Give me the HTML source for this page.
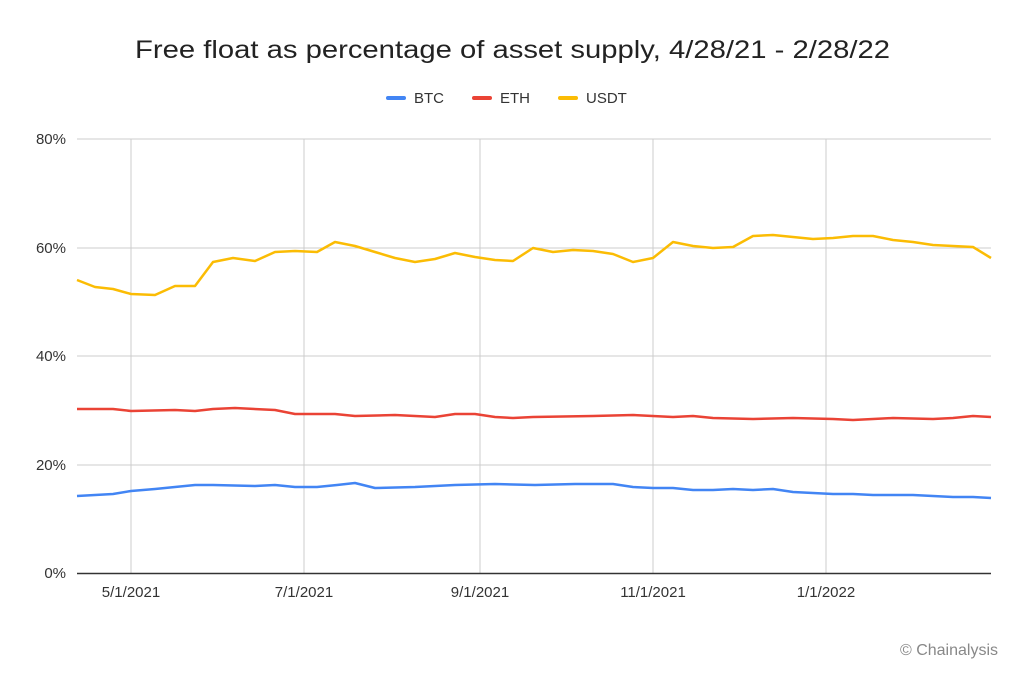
<!DOCTYPE html>
<html><head><meta charset="utf-8"><style>
body{margin:0;background:#fff;}
svg{display:block;font-family:"Liberation Sans",sans-serif;}
</style></head><body>
<svg width="1024" height="674" viewBox="0 0 1024 674">
<rect width="1024" height="674" fill="#fff"/>
<text x="135" y="58" font-size="25" fill="#222" textLength="755" lengthAdjust="spacingAndGlyphs">Free float as percentage of asset supply, 4/28/21 -  2/28/22</text>
<g font-size="15" fill="#333">
<line x1="388" y1="98" x2="404" y2="98" stroke="#4285f4" stroke-width="4" stroke-linecap="round"/>
<text x="414" y="103">BTC</text>
<line x1="474" y1="98" x2="490" y2="98" stroke="#ea4335" stroke-width="4" stroke-linecap="round"/>
<text x="500" y="103">ETH</text>
<line x1="560" y1="98" x2="576" y2="98" stroke="#fbbc04" stroke-width="4" stroke-linecap="round"/>
<text x="586" y="103">USDT</text>
</g>
<g stroke="#ccc" stroke-width="1">
<line x1="77" y1="139" x2="991" y2="139"/>
<line x1="77" y1="248" x2="991" y2="248"/>
<line x1="77" y1="356" x2="991" y2="356"/>
<line x1="77" y1="465" x2="991" y2="465"/>
<line x1="131" y1="139" x2="131" y2="573"/>
<line x1="304" y1="139" x2="304" y2="573"/>
<line x1="480" y1="139" x2="480" y2="573"/>
<line x1="653" y1="139" x2="653" y2="573"/>
<line x1="826" y1="139" x2="826" y2="573"/>
</g>
<line x1="77" y1="573.5" x2="991" y2="573.5" stroke="#333" stroke-width="1.5"/>
<g font-size="15" fill="#333" text-anchor="end">
<text x="66" y="144">80%</text><text x="66" y="253">60%</text><text x="66" y="361">40%</text><text x="66" y="470">20%</text><text x="66" y="578">0%</text>
</g>
<g font-size="15" fill="#333" text-anchor="middle">
<text x="131" y="597">5/1/2021</text><text x="304" y="597">7/1/2021</text><text x="480" y="597">9/1/2021</text><text x="653" y="597">11/1/2021</text><text x="826" y="597">1/1/2022</text>
</g>
<g fill="none" stroke-width="2.5" stroke-linejoin="round">
<polyline stroke="#fbbc04" points="77,280 95,287 113,289 131,294 155,295 175,286 195,286 213,262 233,258 255,261 275,252 295,251 317,252 335,242 355,246 375,252 395,258 415,262 435,259 455,253 475,257 495,260 513,261 533,248 553,252 573,250 593,251 613,254 633,262 653,258 673,242 693,246 713,248 733,247 753,236 773,235 793,237 813,239 833,238 853,236 873,236 893,240 913,242 933,245 953,246 973,247 991,258"/>
<polyline stroke="#ea4335" points="77,409 113,409 131,411 175,410 195,411 213,409 235,408 275,410 295,414 335,414 355,416 395,415 435,417 455,414 475,414 495,417 513,418 533,417 593,416 633,415 673,417 693,416 713,418 753,419 793,418 833,419 853,420 873,419 893,418 933,419 953,418 973,416 991,417"/>
<polyline stroke="#4285f4" points="77,496 113,494 131,491 155,489 195,485 213,485 255,486 275,485 295,487 317,487 337,485 355,483 375,488 415,487 455,485 495,484 535,485 575,484 613,484 633,487 653,488 673,488 693,490 713,490 733,489 753,490 773,489 793,492 813,493 833,494 853,494 873,495 913,495 933,496 953,497 973,497 991,498"/>
</g>
<text x="998" y="655" text-anchor="end" font-size="16" fill="#888">© Chainalysis</text>
</svg>
</body></html>
